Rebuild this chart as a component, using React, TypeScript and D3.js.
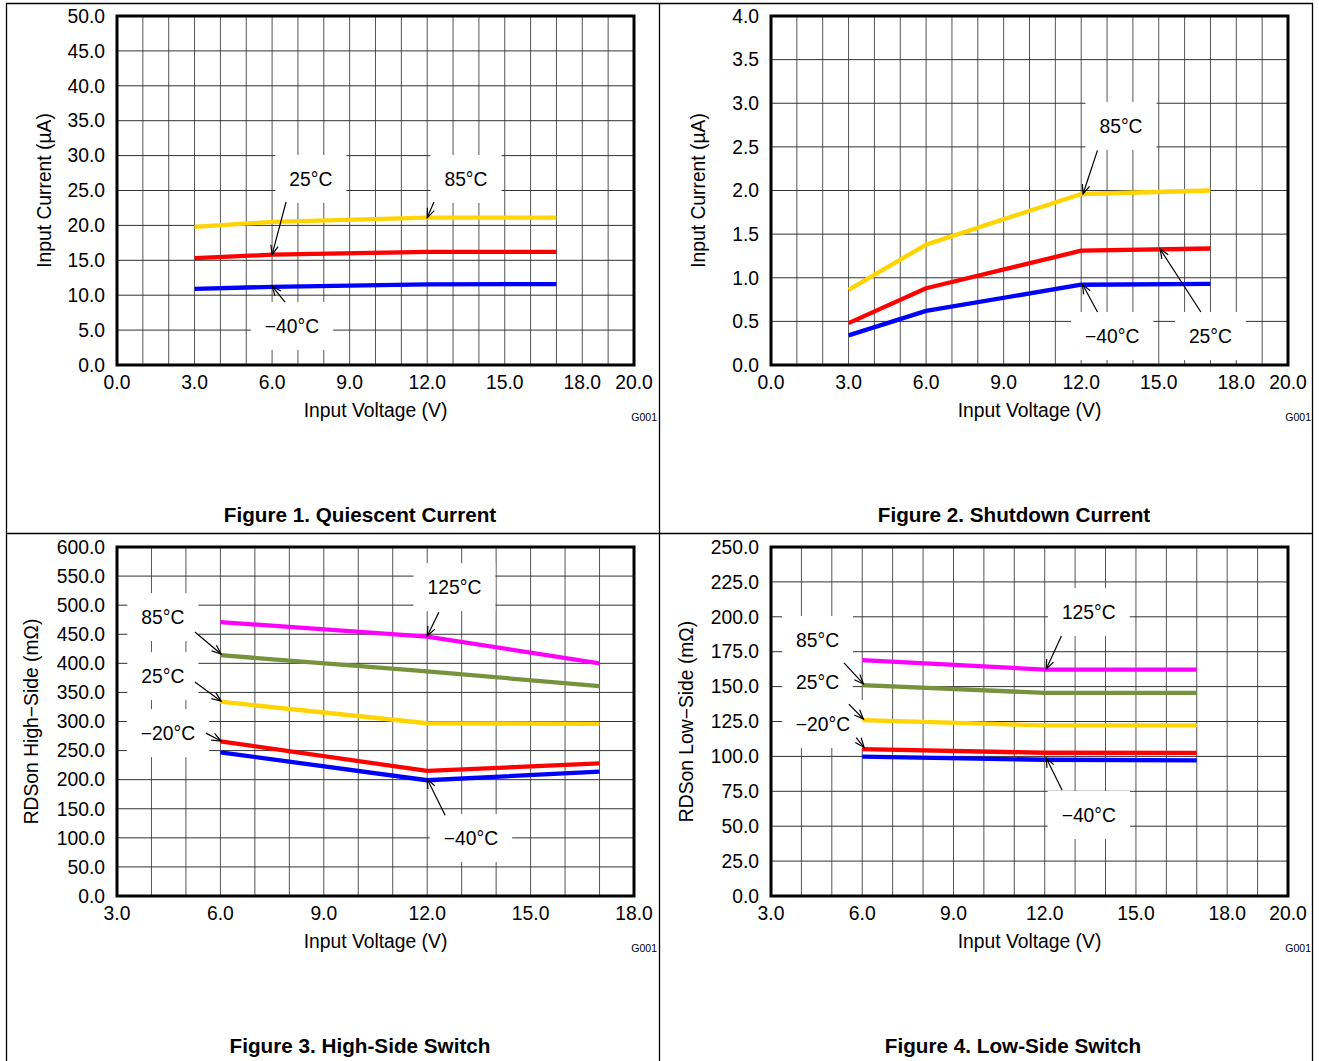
import React from "react";
import * as d3 from "d3";

const FONT = "'Liberation Sans', Arial, Helvetica, sans-serif";

// ---------- Figure 1: Quiescent Current ----------
const fig1Voltage = [3, 6, 12, 17];
const fig1Minus40 = [10.9, 11.2, 11.55, 11.6];
const fig1Plus25 = [15.3, 15.8, 16.2, 16.2];
const fig1Plus85 = [19.8, 20.5, 21.1, 21.1];
const fig1XTicks = [0, 3, 6, 9, 12, 15, 18, 20];
const fig1YTicks = [0, 5, 10, 15, 20, 25, 30, 35, 40, 45, 50];

// ---------- Figure 2: Shutdown Current ----------
const fig2Voltage = [3, 6, 12, 17];
const fig2Minus40 = [0.34, 0.62, 0.92, 0.93];
const fig2Plus25 = [0.48, 0.88, 1.31, 1.335];
const fig2Plus85 = [0.86, 1.38, 1.96, 2.0];
const fig2XTicks = [0, 3, 6, 9, 12, 15, 18, 20];
const fig2YTicks = [0, 0.5, 1, 1.5, 2, 2.5, 3, 3.5, 4];

// ---------- Figure 3: High-Side Switch ----------
const fig3Voltage = [6, 12, 17];
const fig3Minus40 = [247, 199, 214];
const fig3Minus20 = [266, 215, 228];
const fig3Plus25 = [334, 297, 296];
const fig3Plus85 = [414, 386, 361];
const fig3Plus125 = [471, 446, 400];
const fig3XTicks = [3, 6, 9, 12, 15, 18];
const fig3YTicks = [0, 50, 100, 150, 200, 250, 300, 350, 400, 450, 500, 550, 600];

// ---------- Figure 4: Low-Side Switch ----------
const fig4Voltage = [6, 12, 17];
const fig4Minus40 = [99.8, 97.6, 97.2];
const fig4Minus20 = [105.2, 102.6, 102.5];
const fig4Plus25 = [126, 122.2, 122.2];
const fig4Plus85 = [151, 145.5, 145.5];
const fig4Plus125 = [169, 162.2, 162.2];
const fig4XTicks = [3, 6, 9, 12, 15, 18, 20];
const fig4YTicks = [0, 25, 50, 75, 100, 125, 150, 175, 200, 225, 250];

// annotation labels (data coordinates)
const fig1Labels = [
  { text: "25°C", x: 7.5, y: 26.65, from: [6.54, 23.35], to: [6.0, 15.8] },
  { text: "85°C", x: 13.5, y: 26.65, from: [12.26, 23.35], to: [12.0, 21.1] },
  { text: "−40°C", x: 6.77, y: 5.6, from: [6.5, 9.0], to: [6.0, 11.3] },
];
const fig2Labels = [
  { text: "85°C", x: 13.54, y: 2.74, from: [12.63, 2.46], to: [12.07, 1.96] },
  { text: "−40°C", x: 13.2, y: 0.332, from: [12.63, 0.607], to: [12.05, 0.925] },
  { text: "25°C", x: 17.0, y: 0.332, from: [16.63, 0.607], to: [15.05, 1.33] },
];
const fig3Labels = [
  { text: "125°C", x: 12.79, y: 531, from: [12.34, 488], to: [12.0, 447] },
  { text: "85°C", x: 4.33, y: 479.6, from: [5.26, 453.8], to: [6.02, 416] },
  { text: "25°C", x: 4.33, y: 378, from: [5.26, 368], to: [6.02, 335] },
  { text: "−20°C", x: 4.48, y: 280, from: [5.58, 280], to: [6.02, 266.5] },
  { text: "−40°C", x: 13.27, y: 99.7, from: [12.52, 139], to: [12.0, 201] },
];
const fig4Labels = [
  { text: "125°C", x: 13.45, y: 203.4, from: [12.55, 186.2], to: [12.05, 162.6] },
  { text: "85°C", x: 4.53, y: 183.4, from: [5.4, 167], to: [6.04, 151.9] },
  { text: "25°C", x: 4.53, y: 152.8, from: [5.56, 137.5], to: [6.04, 126.8] },
  { text: "−20°C", x: 4.71, y: 123.2, from: [5.8, 113.5], to: [6.06, 106.5] },
  { text: "−40°C", x: 13.45, y: 58, from: [12.57, 75.9], to: [12.05, 98.9] },
];

const YELLOW = "#FFD400";
const RED = "#FF0000";
const BLUE = "#0000FF";
const MAGENTA = "#FF00FF";
const GREEN = "#76923C";

const FS = 19.3;

let ctx: CanvasRenderingContext2D | null = null;
function textWidth(t: string, size = FS, weight = "normal") {
  if (!ctx) ctx = document.createElement("canvas").getContext("2d");
  if (!ctx) return t.length * size * 0.55;
  ctx.font = `${weight} ${size}px 'Liberation Sans', Arial`;
  return ctx.measureText(t).width;
}

type Series = { color: string; xs: number[]; ys: number[] };
type Label = { text: string; x: number; y: number; from: number[]; to: number[] };

type PanelCfg = {
  left: number;
  top: number;
  w: number;
  h: number;
  xDomain: [number, number];
  yDomain: [number, number];
  xTicks: number[];
  yTicks: number[];
  series: Series[];
  labels: Label[];
  yTitle: string;
  yTitleX: number;
  title: string;
  titleY: number;
  titleX: number;
};

function Arrow({ x1, y1, x2, y2 }: { x1: number; y1: number; x2: number; y2: number }) {
  const a = Math.atan2(y2 - y1, x2 - x1);
  const L = 10;
  const sp = (22 * Math.PI) / 180;
  const hx1 = x2 - L * Math.cos(a - sp);
  const hy1 = y2 - L * Math.sin(a - sp);
  const hx2 = x2 - L * Math.cos(a + sp);
  const hy2 = y2 - L * Math.sin(a + sp);
  return (
    <g stroke="#000" strokeWidth={1.2} fill="none">
      <line x1={x1} y1={y1} x2={x2} y2={y2} />
      <path d={`M${hx1},${hy1}L${x2},${y2}L${hx2},${hy2}`} />
    </g>
  );
}

function Panel({ cfg }: { cfg: PanelCfg }) {
  const x = d3.scaleLinear().domain(cfg.xDomain).range([cfg.left, cfg.left + cfg.w]);
  const y = d3.scaleLinear().domain(cfg.yDomain).range([cfg.top + cfg.h, cfg.top]);
  const gridX = d3.range(cfg.xDomain[0], cfg.xDomain[1] + 0.001, 1);
  const fmt = d3.format(".1f");
  const line = d3
    .line<[number, number]>()
    .x((d) => x(d[0]))
    .y((d) => y(d[1]));
  const bottom = cfg.top + cfg.h;
  return (
    <g>
      {gridX.map((v) => (
        <line key={"gx" + v} x1={x(v)} x2={x(v)} y1={cfg.top} y2={bottom} stroke="#555" strokeWidth={1} />
      ))}
      {cfg.yTicks.map((v) => (
        <line key={"gy" + v} x1={cfg.left} x2={cfg.left + cfg.w} y1={y(v)} y2={y(v)} stroke="#333" strokeWidth={1} />
      ))}
      {cfg.labels.map((l, i) => {
        const tw = textWidth(l.text);
        return (
          <rect key={"b" + i} x={x(l.x) - tw / 2 - 14} y={y(l.y) - 24} width={tw + 28} height={48} fill="#fff" />
        );
      })}
      {cfg.series.map((s, i) => (
        <path
          key={"s" + i}
          d={line(s.xs.map((v, j) => [v, s.ys[j]] as [number, number])) || ""}
          fill="none"
          stroke={s.color}
          strokeWidth={4.3}
          strokeLinejoin="round"
        />
      ))}
      <rect x={cfg.left} y={cfg.top} width={cfg.w} height={cfg.h} fill="none" stroke="#000" strokeWidth={3} />
      {cfg.labels.map((l, i) => (
        <g key={"l" + i}>
          <Arrow x1={x(l.from[0])} y1={y(l.from[1])} x2={x(l.to[0])} y2={y(l.to[1])} />
          <text x={x(l.x)} y={y(l.y)} dy="0.35em" textAnchor="middle" fontSize={FS} fontFamily={FONT} fill="#000">
            {l.text}
          </text>
        </g>
      ))}
      {cfg.yTicks.map((v) => (
        <text key={"ty" + v} x={cfg.left - 12} y={y(v)} dy="0.35em" textAnchor="end" fontSize={FS} fontFamily={FONT}>
          {fmt(v)}
        </text>
      ))}
      {cfg.xTicks.map((v) => (
        <text key={"tx" + v} x={x(v)} y={bottom + 24} textAnchor="middle" fontSize={FS} fontFamily={FONT}>
          {fmt(v)}
        </text>
      ))}
      <text x={cfg.left + cfg.w / 2} y={bottom + 52} textAnchor="middle" fontSize={FS} fontFamily={FONT}>
        Input Voltage (V)
      </text>
      <text
        transform={`translate(${cfg.yTitleX},${cfg.top + cfg.h / 2}) rotate(-90)`}
        dy="0.35em"
        textAnchor="middle"
        fontSize={FS}
        fontFamily={FONT}
      >
        {cfg.yTitle}
      </text>
      <text x={cfg.left + cfg.w + 23} y={bottom + 56} textAnchor="end" fontSize={10.5} fontFamily={FONT}>
        G001
      </text>
      <text x={cfg.titleX} y={cfg.titleY} textAnchor="middle" fontSize={20.7} fontWeight="bold" fontFamily={FONT}>
        {cfg.title}
      </text>
    </g>
  );
}

export default function App() {
  const W = 1319;
  const H = 1061;
  const panels: PanelCfg[] = [
    {
      left: 117, top: 16, w: 517, h: 349,
      xDomain: [0, 20], yDomain: [0, 50],
      xTicks: fig1XTicks, yTicks: fig1YTicks,
      series: [
        { color: YELLOW, xs: fig1Voltage, ys: fig1Plus85 },
        { color: RED, xs: fig1Voltage, ys: fig1Plus25 },
        { color: BLUE, xs: fig1Voltage, ys: fig1Minus40 },
      ],
      labels: fig1Labels,
      yTitle: "Input Current (µA)", yTitleX: 44,
      title: "Figure 1. Quiescent Current", titleX: 360, titleY: 522,
    },
    {
      left: 771, top: 16, w: 517, h: 349,
      xDomain: [0, 20], yDomain: [0, 4],
      xTicks: fig2XTicks, yTicks: fig2YTicks,
      series: [
        { color: YELLOW, xs: fig2Voltage, ys: fig2Plus85 },
        { color: RED, xs: fig2Voltage, ys: fig2Plus25 },
        { color: BLUE, xs: fig2Voltage, ys: fig2Minus40 },
      ],
      labels: fig2Labels,
      yTitle: "Input Current (µA)", yTitleX: 698,
      title: "Figure 2. Shutdown Current", titleX: 1014, titleY: 522,
    },
    {
      left: 117, top: 547, w: 517, h: 349,
      xDomain: [3, 18], yDomain: [0, 600],
      xTicks: fig3XTicks, yTicks: fig3YTicks,
      series: [
        { color: MAGENTA, xs: fig3Voltage, ys: fig3Plus125 },
        { color: GREEN, xs: fig3Voltage, ys: fig3Plus85 },
        { color: YELLOW, xs: fig3Voltage, ys: fig3Plus25 },
        { color: RED, xs: fig3Voltage, ys: fig3Minus20 },
        { color: BLUE, xs: fig3Voltage, ys: fig3Minus40 },
      ],
      labels: fig3Labels,
      yTitle: "RDSon High−Side (mΩ)", yTitleX: 31,
      title: "Figure 3. High-Side Switch", titleX: 360, titleY: 1053,
    },
    {
      left: 771, top: 547, w: 517, h: 349,
      xDomain: [3, 20], yDomain: [0, 250],
      xTicks: fig4XTicks, yTicks: fig4YTicks,
      series: [
        { color: MAGENTA, xs: fig4Voltage, ys: fig4Plus125 },
        { color: GREEN, xs: fig4Voltage, ys: fig4Plus85 },
        { color: YELLOW, xs: fig4Voltage, ys: fig4Plus25 },
        { color: RED, xs: fig4Voltage, ys: fig4Minus20 },
        { color: BLUE, xs: fig4Voltage, ys: fig4Minus40 },
      ],
      labels: fig4Labels,
      yTitle: "RDSon Low−Side (mΩ)", yTitleX: 686,
      title: "Figure 4. Low-Side Switch", titleX: 1013, titleY: 1053,
    },
  ];
  return (
    <div style={{ position: "absolute", left: 0, top: 0, width: W, height: H, background: "#fff" }}>
      <svg width={W} height={H} style={{ display: "block" }}>
        <rect x={0} y={0} width={W} height={H} fill="#fff" />
        <g stroke="#000" strokeWidth={1.3} fill="none">
          <path d={`M6.5,${H}V3.5H1312.5V${H}`} />
          <line x1={659.5} y1={3.5} x2={659.5} y2={H} />
          <line x1={6.5} y1={533.5} x2={1312.5} y2={533.5} />
        </g>
        {panels.map((p, i) => (
          <Panel key={i} cfg={p} />
        ))}
      </svg>
    </div>
  );
}
